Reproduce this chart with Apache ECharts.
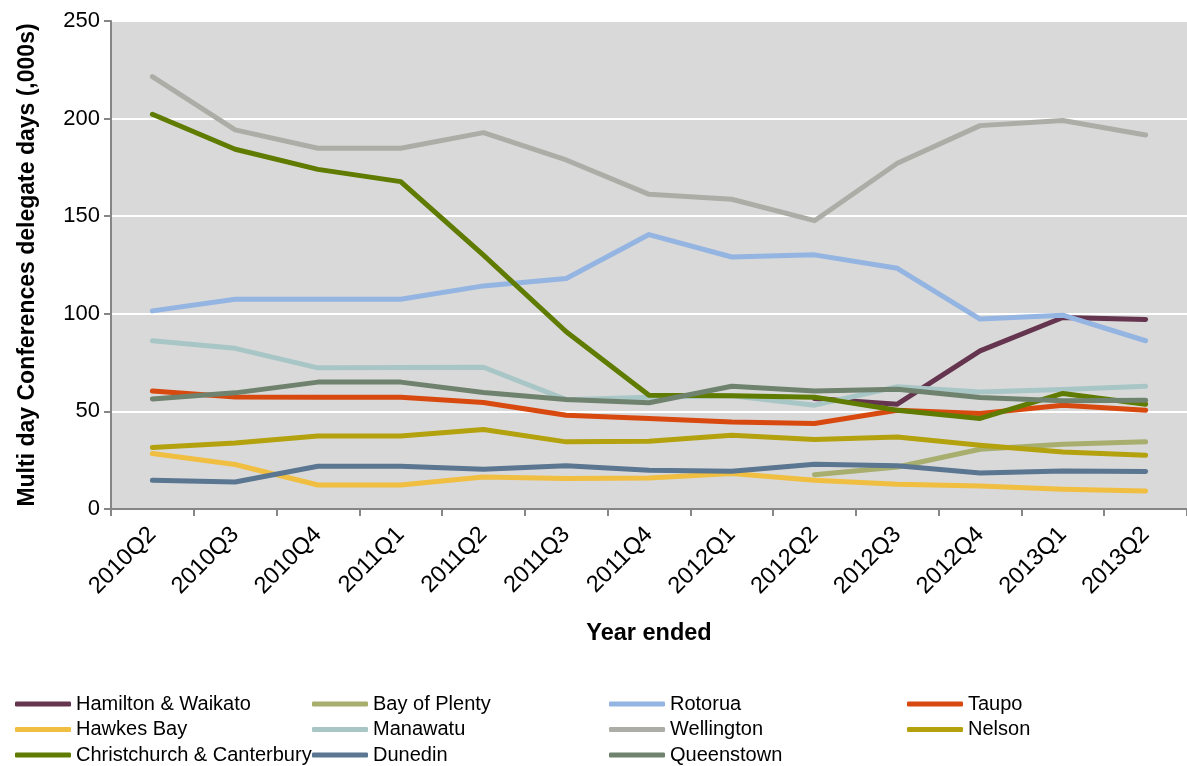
<!DOCTYPE html>
<html>
<head>
<meta charset="utf-8">
<script src="https://cdn.jsdelivr.net/npm/echarts@6/dist/echarts.min.js"></script>
<style>
html,body{margin:0;padding:0;background:#fff;}
#chart{width:1187px;height:766px;}
</style>
</head>
<body>
<div id="chart"></div>
<script>
const categories = ['2010Q2','2010Q3','2010Q4','2011Q1','2011Q2','2011Q3','2011Q4','2012Q1','2012Q2','2012Q3','2012Q4','2013Q1','2013Q2'];
const yTicks = [0, 50, 100, 150, 200, 250];

const hamilton     = [null, null, null, null, null, null, null, null, 56.6, 53.7, 81, 98.1, 97.1];
const bayOfPlenty  = [null, null, null, null, null, null, null, null, 17.6, 21.5, 30.6, 33.2, 34.4];
const rotorua      = [101.5, 107.5, 107.5, 107.5, 114.3, 118.1, 140.6, 129.1, 130.2, 123.3, 97.3, 99.3, 86.2];
const taupo        = [60.5, 57.4, 57.3, 57.3, 54.6, 48, 46.4, 44.6, 43.8, 50.6, 48.9, 53.2, 50.6];
const hawkesBay    = [28.4, 22.8, 12.3, 12.3, 16.4, 15.6, 15.9, 18.2, 14.7, 12.7, 11.8, 10.1, 9.2];
const manawatu     = [86.2, 82.3, 72.3, 72.5, 72.6, 56, 57.2, 58, 53.2, 62.6, 60, 61.2, 62.9];
const wellington   = [221.5, 194.2, 184.8, 184.8, 192.8, 178.8, 161.2, 158.7, 147.7, 177.1, 196.4, 199, 191.6];
const nelson       = [31.5, 33.8, 37.4, 37.4, 40.7, 34.4, 34.7, 37.8, 35.6, 36.9, 32.7, 29.2, 27.5];
const christchurch = [202.2, 184.3, 174, 167.7, 130, 90.8, 58.3, 58, 57.3, 50.6, 46.4, 59.2, 53.7];
const dunedin      = [14.7, 13.8, 21.9, 21.9, 20.4, 22.1, 19.8, 19.3, 22.9, 22.1, 18.5, 19.5, 19.2];
const queenstown   = [56.4, 59.5, 65, 65, 59.7, 56.1, 54.4, 62.9, 60.4, 61.4, 57.1, 55.4, 55.7];

const seriesNames = ['Hamilton & Waikato','Bay of Plenty','Rotorua','Taupo','Hawkes Bay','Manawatu','Wellington','Nelson','Christchurch & Canterbury','Dunedin','Queenstown'];
const seriesData = [hamilton, bayOfPlenty, rotorua, taupo, hawkesBay, manawatu, wellington, nelson, christchurch, dunedin, queenstown];
const seriesColors = ['#65354F','#A7AE6E','#94B4E2','#D8490F','#F0BE41','#A9C6C6','#ADADA7','#B3A10E','#5F7B00','#5B7690','#6F826E'];

const FONT = "'Liberation Sans', Arial, sans-serif";

const legendCols = [
  ['Hamilton & Waikato','Hawkes Bay','Christchurch & Canterbury'],
  ['Bay of Plenty','Manawatu','Dunedin'],
  ['Rotorua','Wellington','Queenstown'],
  ['Taupo','Nelson']
];
const legendLefts = [15, 312, 609, 907];

const chart = echarts.init(document.getElementById('chart'), null, {renderer:'canvas'});
chart.setOption({
  animation: false,
  backgroundColor: '#ffffff',
  grid: {left: 111, width: 1079, top: 21, bottom: 257, show: true, backgroundColor: '#D9D9D9', borderWidth: 0},
  legend: legendCols.map((col, i) => ({
    data: col,
    orient: 'vertical',
    left: legendLefts[i],
    top: 694,
    height: 120,
    padding: 0,
    itemWidth: 56,
    itemHeight: 5,
    itemGap: 5.5,
    icon: 'roundRect',
    textStyle: {fontFamily: FONT, fontSize: 20, color: '#000', lineHeight: 20, padding: [0,0,0,0]},
    selectedMode: false
  })),
  xAxis: {
    type: 'category',
    data: categories,
    boundaryGap: true,
    name: 'Year ended',
    nameLocation: 'middle',
    nameGap: 113,
    nameTextStyle: {fontFamily: FONT, fontSize: 23.5, fontWeight: 'bold', color: '#000'},
    axisLine: {show: true, lineStyle: {color: '#868686', width: 2}},
    axisTick: {show: true, length: 7, alignWithLabel: false, lineStyle: {color: '#868686', width: 2}},
    axisLabel: {rotate: 45, fontFamily: FONT, fontSize: 23.5, color: '#000', margin: 22, interval: 0},
    splitLine: {show: false}
  },
  yAxis: {
    type: 'value',
    min: 0, max: 250, interval: 50,
    name: 'Multi day Conferences delegate days (,000s)',
    nameLocation: 'middle',
    nameGap: 72,
    nameTextStyle: {fontFamily: FONT, fontSize: 23, fontWeight: 'bold', color: '#000'},
    axisLine: {show: true, lineStyle: {color: '#868686', width: 2}},
    axisTick: {show: true, length: 7, lineStyle: {color: '#868686', width: 2}},
    axisLabel: {fontFamily: FONT, fontSize: 22, color: '#000', margin: 11,
      formatter: v => yTicks.includes(v) ? String(v) : ''},
    splitLine: {show: true, lineStyle: {color: '#FFFFFF', width: 2}}
  },
  series: seriesNames.map((n, i) => ({
    name: n,
    type: 'line',
    data: seriesData[i],
    showSymbol: false,
    symbol: 'none',
    connectNulls: false,
    color: seriesColors[i],
    lineStyle: {width: 5, color: seriesColors[i], cap: 'round', join: 'round'},
    itemStyle: {color: seriesColors[i]},
    emphasis: {disabled: true}
  }))
});
</script>
</body>
</html>
